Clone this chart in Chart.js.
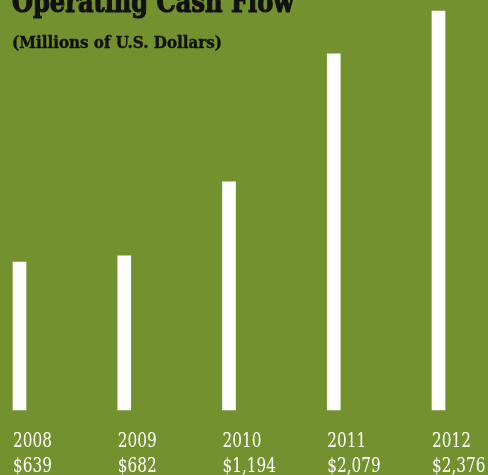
<!DOCTYPE html>
<html>
<head>
<meta charset="utf-8">
<script src="https://cdn.jsdelivr.net/npm/chart.js@4.4.1/dist/chart.umd.min.js"></script>
<style>
  html, body { margin: 0; padding: 0; background: #73922f; }
  #wrap { width: 488px; height: 475px; }
</style>
</head>
<body>
<div id="wrap"><canvas id="cashChart" width="488" height="475"></canvas></div>
<script>
var years = ["2008", "2009", "2010", "2011", "2012"];
var cashFlow = [639, 682, 1194, 2079, 2376];
var valueLabels = ["$639", "$682", "$1,194", "$2,079", "$2,376"];
var titleText = "Operating Cash Flow";
var subtitleText = "(Millions of U.S. Dollars)";

var axisMin = -385;
var barWidth = 13;

// heading and the year / value captions under each bar
var captions = {
  id: 'captions',
  afterDraw: function(chart) {
    var ctx = chart.ctx;
    var xs = chart.scales.x;
    ctx.save();
    ctx.fillStyle = '#111';
    ctx.strokeStyle = '#111';
    ctx.textBaseline = 'alphabetic';
    ctx.textAlign = 'left';
    ctx.font = 'bold 30px "DejaVu Serif"';
    ctx.lineWidth = 1.2;
    ctx.fillText(titleText, 12, 12, 282);
    ctx.strokeText(titleText, 12, 12, 282);
    ctx.font = 'bold 16px "DejaVu Serif"';
    ctx.lineWidth = 0.4;
    ctx.fillText(subtitleText, 12, 48, 210);
    ctx.strokeText(subtitleText, 12, 48, 210);

    // captions are a little taller than the condensed face
    ctx.fillStyle = '#ffffff';
    ctx.font = '17px "DejaVu Serif Condensed", "DejaVu Serif"';
    for (var i = 0; i < years.length; i++) {
      var left = xs.getPixelForValue(i) - barWidth / 2;
      ctx.save();
      ctx.translate(left, 447);
      ctx.scale(1, 1.17);
      ctx.fillText(years[i], 0, 0);
      ctx.restore();
      ctx.save();
      ctx.translate(left, 472);
      ctx.scale(1, 1.17);
      ctx.fillText(valueLabels[i], 0, 0);
      ctx.restore();
    }
    ctx.restore();
  }
};

var ctx = document.getElementById('cashChart').getContext('2d');
var chart = new Chart(ctx, {
  type: 'bar',
  data: {
    labels: years,
    datasets: [{
      data: cashFlow,
      base: axisMin,
      backgroundColor: '#ffffff',
      borderWidth: 0,
      barThickness: barWidth,
      clip: false
    }]
  },
  options: {
    responsive: false,
    animation: false,
    layout: { padding: { left: 19.5, right: 49.5, top: 11, bottom: 65 } },
    plugins: { legend: { display: false }, tooltip: { enabled: false } },
    scales: {
      x: { display: false, offset: false },
      y: { display: false, min: axisMin, max: 2376 }
    }
  },
  plugins: [captions]
});
</script>
</body>
</html>
